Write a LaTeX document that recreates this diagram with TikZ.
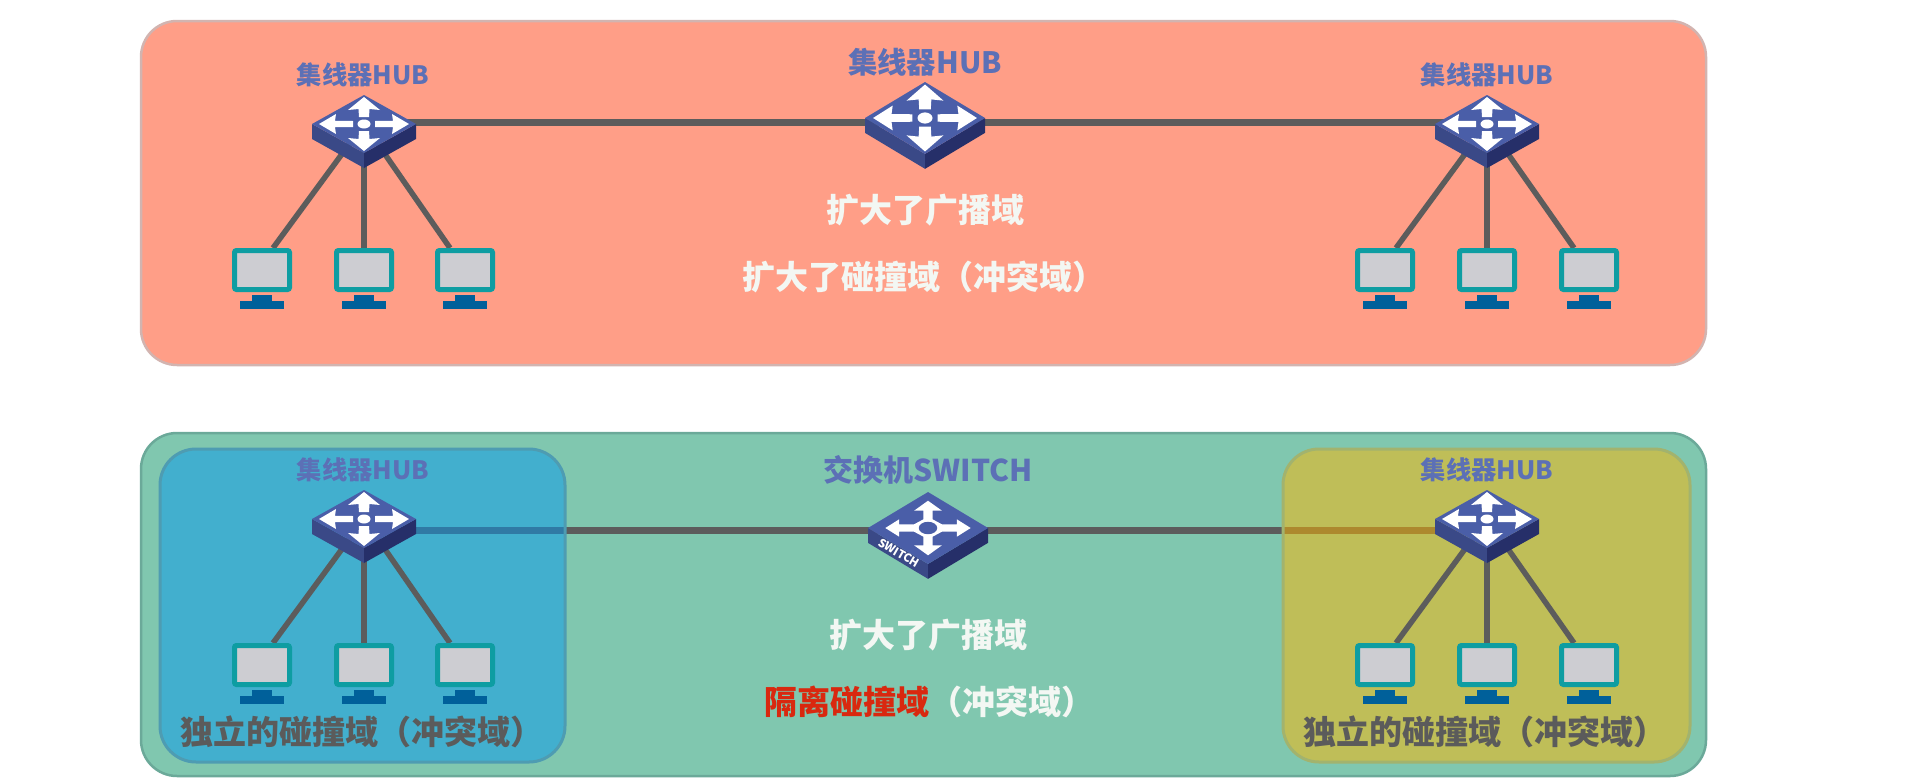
\documentclass[tikz,border=0pt]{standalone}
\usepackage{fontspec}
\setmainfont{Noto Sans CJK SC}
\definecolor{panelred}{HTML}{FF9E87}
\definecolor{panelredb}{HTML}{D2B4B0}
\definecolor{panelgreen}{HTML}{80C7AF}
\definecolor{panelgreenb}{HTML}{6BA999}
\definecolor{overblue}{RGB}{5,153,238}
\definecolor{overyellow}{RGB}{255,183,2}
\definecolor{boxblueb}{HTML}{4E9CB2}
\definecolor{boxyellowb}{HTML}{A2B36E}
\definecolor{wire}{HTML}{5C5C5C}
\definecolor{hubtop}{HTML}{4A5EA8}
\definecolor{hubleft}{HTML}{3A4987}
\definecolor{hubright}{HTML}{262F69}
\definecolor{labelblue}{HTML}{5C70B6}
\definecolor{pcteal}{HTML}{0E9DA2}
\definecolor{pcscreen}{HTML}{CDCDD2}
\definecolor{pcbase}{HTML}{00609A}
\definecolor{alertred}{HTML}{D9280F}
\definecolor{softwhite}{HTML}{F3F7F3}
\definecolor{softgrey}{HTML}{5B5B5B}
\pgfdeclarelayer{front}
\pgfsetlayers{main,front}
\tikzset{
  panel/.style={rounded corners=36pt,line width=2.5pt},
  domainbox/.style={rounded corners=36pt,fill opacity=.5,draw opacity=1,line width=3pt},
  trunk/.style={draw=wire,line width=7pt},
  branch/.style={draw=wire,line width=5.5pt},
  hubnode/.style={inner sep=0pt,minimum width=104pt,minimum height=58pt},
  bighubnode/.style={inner sep=0pt,minimum width=120pt,minimum height=72pt},
  monitor/.style={draw=pcteal,fill=pcscreen,line width=5pt,rounded corners=2pt,inner sep=0pt,minimum width=55pt,minimum height=39pt},
  smalllabel/.style={text=labelblue,inner sep=0pt,font=\fontsize{25.3}{25}\selectfont\bfseries},
  biglabel/.style={text=labelblue,inner sep=0pt,font=\fontsize{29.4}{29}\selectfont\bfseries},
  switchlabel/.style={text=labelblue,inner sep=0pt,font=\fontsize{30}{30}\selectfont\bfseries},
  whitetext/.style={text=softwhite,inner sep=0pt,font=\fontsize{33}{33}\selectfont\bfseries},
  greytext/.style={text=softgrey,inner sep=0pt,font=\fontsize{33}{33}\selectfont\bfseries},
}
% body of a box icon: x, y, xscale, yscale, thickness
\newcommand\boxbody[5]{%
  \begin{scope}[shift={(#1,#2)},xscale=#3,yscale=#4]
    \fill[hubleft] (-52,0) -- (0,29) -- (0,29+#5) -- (-52,#5) -- cycle;
    \fill[hubright] (52,0) -- (0,29) -- (0,29+#5) -- (52,#5) -- cycle;
    \fill[hubtop] (0,-29) -- (52,0) -- (0,29) -- (-52,0) -- cycle;
  \end{scope}}
\newcommand\hubicon[5]{%
  \boxbody{#1}{#2}{#3}{#4}{#5}
  \begin{scope}[shift={(#1,#2)},xscale=#3,yscale=#4]
    \fill[white] (0,-27) -- (16,-14) -- (5.5,-15) -- (5,-7) -- (-5,-7) -- (-5.5,-15) -- (-16,-14) -- cycle;
    \fill[white] (0,27) -- (16,14) -- (5.5,15) -- (5,7) -- (-5,7) -- (-5.5,15) -- (-16,14) -- cycle;
    \fill[white] (-45,0) -- (-28,-10) -- (-29,-3.2) -- (-11,-3) -- (-11,3) -- (-29,3.2) -- (-28,10) -- cycle;
    \fill[white] (45,0) -- (28,-10) -- (29,-3.2) -- (11,-3) -- (11,3) -- (29,3.2) -- (28,10) -- cycle;
    \fill[white] (0,0) ellipse (6.5 and 4.5);
  \end{scope}}
\newcommand\switchicon[5]{%
  \boxbody{#1}{#2}{#3}{#4}{#5}
  \begin{scope}[shift={(#1,#2)},xscale=#3,yscale=#4]
    \fill[white] (0,-22) -- (12,-14) -- (4,-14) -- (4,-7) -- (12,-3) -- (25,-3) -- (25,-7) -- (37,0) -- (25,7) -- (25,3) -- (12,3) -- (4,7) -- (4,14) -- (12,14) -- (0,22) -- (-12,14) -- (-4,14) -- (-4,7) -- (-12,3) -- (-25,3) -- (-25,7) -- (-37,0) -- (-25,-7) -- (-25,-3) -- (-12,-3) -- (-4,-7) -- (-4,-14) -- (-12,-14) -- cycle;
    \fill[hubtop] (0,0) ellipse (8 and 5);
  \end{scope}}
\newcommand\pcicon[3]{%
  \fill[pcbase] (#2-10,#3+25) rectangle (#2+10,#3+32);
  \fill[pcbase] (#2-22,#3+31) rectangle (#2+22,#3+39);
  \node[monitor] (#1) at (#2,#3) {};}
\begin{document}
\begin{tikzpicture}[x=1pt,y=-1pt]
\useasboundingbox (0,0) rectangle (1920,782);
\fill[white] (0,0) rectangle (1920,782);
% panels
\draw[panel,draw=panelredb,fill=panelred] (141,21) rectangle (1706,365);
\draw[panel,draw=panelgreenb,fill=panelgreen] (141,433) rectangle (1706,776);
% anchors of the switching devices
\node[hubnode] (h1) at (364,124) {};
\node[bighubnode] (h2) at (925,118) {};
\node[hubnode] (h3) at (1487,124) {};
\node[hubnode] (h4) at (364,519) {};
\node[bighubnode] (h5) at (928,528) {};
\node[hubnode] (h6) at (1487,519) {};
% trunks
\draw[trunk] ([yshift=2pt]h1.center) -- ([yshift=-4pt]h2.center);
\draw[trunk] ([yshift=-4pt]h2.center) -- ([yshift=2pt]h3.center);
\draw[trunk] ([yshift=-11pt]h4.center) -- ([yshift=-2pt]h5.center);
\draw[trunk] ([yshift=-2pt]h5.center) -- ([yshift=-11pt]h6.center);
% collision domains, laid over the trunk
\draw[domainbox,draw=boxblueb,fill=overblue] (160,449) rectangle (565,762);
\draw[domainbox,draw=boxyellowb,fill=overyellow] (1283,449) rectangle (1690,762);
% computers and device icons sit in front of the branches
\begin{pgfonlayer}{front}
\pcicon{p1}{262}{270}
\pcicon{p2}{364}{270}
\pcicon{p3}{465}{270}
\pcicon{p4}{1385}{270}
\pcicon{p5}{1487}{270}
\pcicon{p6}{1589}{270}
\pcicon{p7}{262}{665}
\pcicon{p8}{364}{665}
\pcicon{p9}{465}{665}
\pcicon{p10}{1385}{665}
\pcicon{p11}{1487}{665}
\pcicon{p12}{1589}{665}
\hubicon{364}{124}{1}{1}{15}
\hubicon{925}{118}{1.154}{1.24}{12}
\hubicon{1487}{124}{1}{1}{15}
\hubicon{364}{519}{1}{1}{15}
\switchicon{928}{528}{1.154}{1.24}{12}
\hubicon{1487}{519}{1}{1}{15}
\node[inner sep=0pt,text=white,rotate=-30,font=\fontsize{11.5}{11.5}\selectfont\bfseries] (swtext) at (899,553) {SWITCH};
\end{pgfonlayer}
% branches
\draw[branch] (h1.center) -- ([xshift=11pt]p1.north);
\draw[branch] (h1.center) -- (p2.north);
\draw[branch] (h1.center) -- ([xshift=-15pt]p3.north);
\draw[branch] (h3.center) -- ([xshift=11pt]p4.north);
\draw[branch] (h3.center) -- (p5.north);
\draw[branch] (h3.center) -- ([xshift=-15pt]p6.north);
\draw[branch] (h4.center) -- ([xshift=11pt]p7.north);
\draw[branch] (h4.center) -- (p8.north);
\draw[branch] (h4.center) -- ([xshift=-15pt]p9.north);
\draw[branch] (h6.center) -- ([xshift=11pt]p10.north);
\draw[branch] (h6.center) -- (p11.north);
\draw[branch] (h6.center) -- ([xshift=-15pt]p12.north);
% labels
\node[smalllabel] (l1) at (363,75) {集线器HUB};
\node[biglabel] (l2) at (925,62) {集线器HUB};
\node[smalllabel] (l3) at (1487,75) {集线器HUB};
\node[smalllabel] (l4) at (363,470) {集线器HUB};
\node[switchlabel] (l5) at (928,470) {交换机SWITCH};
\node[smalllabel] (l6) at (1487,470) {集线器HUB};
\node[whitetext] (t1) at (925,210) {扩大了广播域};
\node[whitetext] (t2) at (924,277) {扩大了碰撞域（冲突域）};
\node[whitetext] (t3) at (928,635) {扩大了广播域};
\node[whitetext] (t4) at (929,702) {\textcolor{alertred}{隔离碰撞域}（冲突域）};
\node[greytext] (t5) at (362,732) {独立的碰撞域（冲突域）};
\node[greytext] (t6) at (1485,732) {独立的碰撞域（冲突域）};
\end{tikzpicture}
\end{document}
